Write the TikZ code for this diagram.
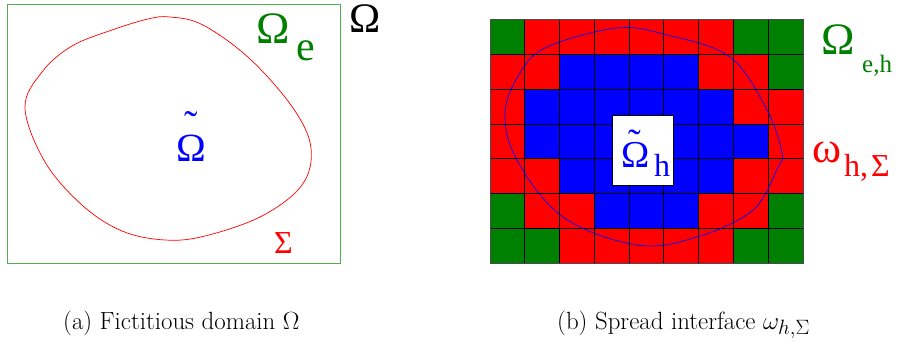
\RequirePackage{fix-cm}
\documentclass[tikz,border=0pt]{standalone}
\usepackage{fontspec}
\newfontfamily\lab{Liberation Serif}
\definecolor{colG}{RGB}{0,128,0}
\definecolor{colR}{RGB}{255,0,0}
\definecolor{colB}{RGB}{0,0,255}
\definecolor{frameG}{RGB}{80,175,80}
\tikzset{
  lbl/.style={inner sep=0pt, anchor=base west},
  fs/.style={font=\lab\fontsize{#1}{#1}\selectfont},
}
\newcommand{\tildeover}[2]{\ooalign{#1\cr\hidewidth\raisebox{#2}{˜}\hidewidth\cr}}
\begin{document}
\begin{tikzpicture}[x=1pt,y=-1pt]
\useasboundingbox (0,0) rectangle (903,342);
\fill[white] (0,0) rectangle (903,342);
% ---------- left panel ----------
\node[draw=frameG, line width=0.9pt, minimum width=333pt, minimum height=259pt,
      inner sep=0pt, anchor=north west] (frame) at (7,4) {};
\draw[colR, line width=0.7pt] plot[smooth cycle, tension=0.6] coordinates {
  (25,108) (42,72) (72,46) (112,30) (148,19) (170,17) (203,25) (250,59)
  (293,108) (311,148) (302,185) (262,216) (205,236) (165,240) (122,231)
  (82,205) (45,162)};
\node[lbl, fs=45, text=colG] (Oe) at (256,44) {Ω};
\node[lbl, fs=42, text=colG] (Oesub) at (296,61) {e};
\node[lbl, fs=42] (Om) at (349,33) {Ω};
\node[lbl, fs=32, text=colR] (Sig) at (274,253) {Σ};
\node[lbl, fs=40, text=colB] (Ot) at (176,162) {\tildeover{Ω}{23pt}};
% ---------- right panel ----------
\def\cw{34.78}\def\rh{34.71}
\foreach \row [count=\r from 0] in {
  {G,R,R,R,R,R,R,G,G},
  {R,R,B,B,B,B,R,R,G},
  {R,B,B,B,B,B,B,R,R},
  {R,B,B,B,B,B,B,B,R},
  {R,R,B,B,B,B,B,R,R},
  {G,R,R,B,B,B,R,R,G},
  {G,G,R,R,R,R,R,G,G}}{
  \foreach \c [count=\k from 0] in \row {
    \fill[col\c] ({490+\k*\cw},{20+\r*\rh}) rectangle ++(\cw,\rh);
  }
}
\foreach \k in {1,...,8} \draw[line width=1.1pt] ({490+\k*\cw},20) -- ({490+\k*\cw},263);
\foreach \r in {1,...,6} \draw[line width=1.1pt] (490,{20+\r*\rh}) -- (803,{20+\r*\rh});
\draw[black!70, line width=1pt] (490,20) rectangle (803,263);
\draw[colB, line width=0.7pt] plot[smooth cycle, tension=0.6] coordinates {
  (617,28) (667,35) (730,57) (767,110) (782,153) (778,167) (753,210)
  (697,237) (637,245) (563,217) (517,160) (505,113) (520,73) (547,47)};
\node[draw, fill=white, line width=0.5pt, minimum width=61pt, minimum height=70pt,
      inner sep=0pt, anchor=north west] (hbox) at (612,115) {};
\node[lbl, fs=38, text=colB] (Oh) at (621,168) {\tildeover{Ω}{13pt}};
\node[lbl, fs=32, text=colB] (Ohsub) at (654,177) {h};
\node[lbl, fs=45, text=colG] (Oeh) at (821,55) {Ω};
\node[lbl, fs=25, text=colG] (Oehsub) at (862,73) {e,h};
\node[lbl, fs=44, text=colR] (om) at (812,163) {ω};
\node[lbl, fs=32, text=colR] (omsub) at (844,177) {h,\kern3pt Σ};
% ---------- captions ----------
\node[lbl, font=\Huge] (capa) at (63,329) {(a) Fictitious domain $\Omega$};
\node[lbl, font=\Huge] (capb) at (557,329) {(b) Spread interface $\omega_{h,\Sigma}$};
\end{tikzpicture}
\end{document}
